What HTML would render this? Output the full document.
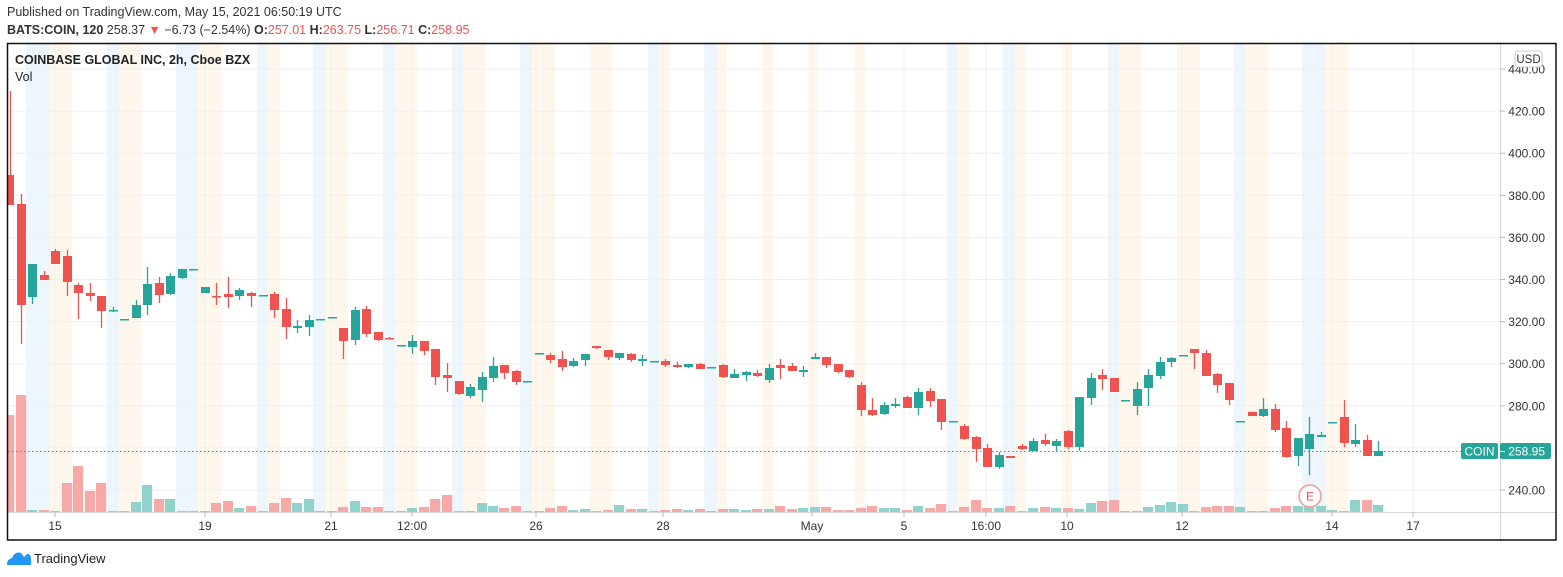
<!DOCTYPE html>
<html><head><meta charset="utf-8">
<style>
html,body{margin:0;padding:0;background:#fff;width:1563px;height:577px;overflow:hidden;font-family:"Liberation Sans",sans-serif;}
svg text{font-family:"Liberation Sans",sans-serif;}
</style></head><body>
<svg id="s" width="1563" height="577" xmlns="http://www.w3.org/2000/svg">
<text x="7" y="16" font-size="12.5" fill="#333">Published on TradingView.com, May 15, 2021 06:50:19 UTC</text>
<text x="7" y="34" font-size="12.5" fill="#333"><tspan font-weight="bold">BATS:COIN, 120</tspan> 258.37 <tspan fill="#ef5350">▼</tspan> −6.73 (−2.54%) <tspan font-weight="bold">O:</tspan><tspan fill="#ef5350">257.01</tspan> <tspan font-weight="bold">H:</tspan><tspan fill="#ef5350">263.75</tspan> <tspan font-weight="bold">L:</tspan><tspan fill="#ef5350">256.71</tspan> <tspan font-weight="bold">C:</tspan><tspan fill="#ef5350">258.95</tspan></text>
<g id="bands"></g>
<g id="grid"></g>
<g id="vol"></g>
<g id="candles"></g>
<line x1="8" y1="451.5" x2="1500" y2="451.5" stroke="#26a69a" stroke-width="1" stroke-dasharray="1.5,2.5"/>
<line x1="1500.5" y1="43" x2="1500.5" y2="540" stroke="#d6d6d6"/>
<line x1="8" y1="512.5" x2="1556" y2="512.5" stroke="#d6d6d6"/>
<g id="axis"></g>
<rect x="1461" y="443" width="37" height="16" rx="2" fill="#26a69a"/>
<text x="1479.5" y="455.5" font-size="12" fill="#fff" text-anchor="middle">COIN</text>
<rect x="1500" y="443" width="51" height="16" rx="2" fill="#26a69a"/>
<line x1="1500" y1="451.5" x2="1505" y2="451.5" stroke="#fff"/>
<text x="1545" y="455.5" font-size="12" fill="#fff" text-anchor="end">258.95</text>
<rect x="1515" y="51" width="27" height="16" rx="3" fill="#fff" stroke="#ccc"/>
<text x="1528.5" y="63" font-size="11.5" fill="#333" text-anchor="middle">USD</text>
<text x="15" y="64" font-size="12.5" font-weight="bold" fill="#222">COINBASE GLOBAL INC, 2h, Cboe BZX</text>
<text x="15" y="81" font-size="12.5" fill="#222">Vol</text>
<circle cx="1310" cy="496" r="11" fill="#fff" stroke="#f29a9a" stroke-width="1.5"/>
<text x="1310" y="500.5" font-size="12" fill="#ef5350" text-anchor="middle">E</text>
<rect x="7.5" y="43.5" width="1548.5" height="496.5" fill="none" stroke="#111" stroke-width="1.5"/>
<path d="M7 565 q0 -6 5 -7 q3 -7 9 -5 l3 4 l3 -3 q5 -1 4 11 z" fill="#2196f3"/>
<text x="34" y="563" font-size="13" fill="#222">TradingView</text>
</svg>
<script>
var NS="http://www.w3.org/2000/svg";
function el(p,t,a){var e=document.createElementNS(NS,t);for(var k in a)e.setAttribute(k,a[k]);document.getElementById(p).appendChild(e);return e;}
var blue=[[26,50],[107,119],[176,198],[257,268],[313,326],[383,395],[452,463],[520,532],[648,659],[704,717],[947,957],[1003,1015],[1108,1119],[1234,1245],[1302,1325]];
var orng=[[50,72],[119,141],[198,221],[268,280],[326,348],[395,417],[463,486],[532,555],[590,612],[659,670],[717,727],[762,773],[808,818],[855,865],[957,969],[1015,1026],[1062,1072],[1119,1141],[1177,1200],[1245,1268],[1325,1348]];
blue.forEach(function(b){el("bands","rect",{x:b[0],y:44,width:b[1]-b[0],height:468,fill:"#eef6fd"});});
orng.forEach(function(b){el("bands","rect",{x:b[0],y:44,width:b[1]-b[0],height:468,fill:"#fff7ec"});});
for(var i=0;i<11;i++){var y=69+i*42.1;el("grid","line",{x1:8,x2:1500,y1:y,y2:y,stroke:"#efefef"});
 el("axis","line",{x1:1500,x2:1505,y1:y,y2:y,stroke:"#bbb"});
 var t=el("axis","text",{x:1545,y:y+4.5,"font-size":12,fill:"#333","text-anchor":"end"});t.textContent=(440-20*i).toFixed(2);}
var dl=[[55,"15"],[205,"19"],[331,"21"],[412,"12:00"],[536,"26"],[663,"28"],[812,"May"],[904,"5"],[986,"16:00"],[1067,"10"],[1182,"12"],[1332,"14"],[1413,"17"]];
dl.forEach(function(d){el("grid","line",{x1:d[0],x2:d[0],y1:44,y2:512,stroke:"#efefef"});
 el("axis","line",{x1:d[0],x2:d[0],y1:512,y2:517,stroke:"#bbb"});
 var t=el("axis","text",{x:d[0],y:530,"font-size":12,fill:"#333","text-anchor":"middle"});t.textContent=d[1];});
var C=[[7,175,205,91,205,'r'],[17,204,305,194,344,'r'],[28,264,297,264,304,'g'],[40,275,280,271,280,'r'],[51,251,264,249,264,'r'],[63,256,282,250,296,'r'],[74,285,293,283,319,'r'],[86,293,296,283,301,'r'],[97,296,311,296,328,'r'],[109,310,311,307,312,'g'],[120,319,320,319,320,'g'],[132,305,318,300,318,'g'],[143,284,305,267,315,'g'],[155,283,295,277,303,'r'],[166,276,294,273,295,'g'],[178,269,278,269,279,'g'],[189,269,270,269,270,'g'],[201,287,293,287,293,'g'],[212,296,297,283,305,'r'],[224,294,297,277,308,'r'],[235,290,296,288,300,'g'],[247,293,296,292,307,'r'],[259,295,296,295,296,'g'],[270,294,310,292,318,'r'],[282,309,327,298,339,'r'],[293,326,328,320,333,'g'],[305,320,327,315,336,'g'],[316,319,320,319,320,'g'],[328,317,318,317,318,'g'],[339,328,341,328,359,'r'],[351,310,340,307,345,'g'],[362,309,334,306,337,'r'],[374,332,340,332,341,'r'],[385,338,339,337,339,'r'],[397,345,346,345,346,'g'],[408,341,347,335,354,'g'],[420,341,351,341,355,'r'],[431,349,377,349,385,'r'],[443,375,378,363,392,'r'],[455,381,394,381,395,'r'],[466,387,396,384,398,'g'],[478,377,390,372,402,'g'],[489,366,378,357,382,'g'],
[500,365,373,365,379,'r'],[512,371,382,370,385,'r'],[523,381,382,381,382,'g'],[535,353,354,353,354,'g'],[546,355,360,353,363,'r'],[558,359,367,351,371,'r'],[569,361,366,358,367,'g'],[581,354,360,354,366,'g'],[592,346,348,346,349,'r'],[604,350,357,350,360,'r'],[615,353,358,353,360,'g'],[627,354,360,353,362,'r'],[638,359,361,355,366,'g'],[650,361,362,361,362,'g'],[661,361,365,359,367,'r'],[673,365,367,362,368,'r'],[684,364,367,364,368,'g'],[696,364,369,363,369,'r'],[707,367,368,367,368,'g'],[719,365,377,364,378,'r'],[730,374,378,369,378,'g'],[742,372,375,371,381,'g'],[753,373,376,370,377,'r'],[765,368,380,364,383,'g'],[776,365,368,359,379,'r'],[788,366,371,363,371,'r'],[799,370,372,366,377,'g'],[811,357,359,353,359,'g'],[822,357,365,357,368,'r'],[834,364,372,364,373,'r'],[845,370,377,370,378,'r'],[857,385,410,382,416,'r'],[868,410,415,398,416,'r'],[880,405,414,402,415,'g'],[891,404,406,398,408,'g'],[903,397,408,396,408,'r'],[914,392,408,388,415,'g'],[926,391,401,388,407,'r'],[937,399,422,399,430,'r'],[949,421,422,421,422,'g'],[960,426,439,424,440,'r'],[972,437,449,436,462,'r'],
[983,448,467,444,467,'r'],[995,455,467,452,469,'g'],[1006,456,458,456,458,'r'],[1018,446,449,444,450,'r'],[1029,441,451,438,451,'g'],[1041,440,444,434,446,'r'],[1052,441,446,439,451,'g'],[1064,431,447,430,449,'r'],[1075,397,447,397,451,'g'],[1087,378,398,373,405,'g'],[1098,375,379,369,390,'r'],[1110,378,392,378,392,'r'],[1121,400,401,400,401,'g'],[1133,389,406,382,415,'g'],[1144,375,388,369,406,'g'],[1156,362,376,357,379,'g'],[1167,358,362,357,367,'g'],[1179,355,356,355,356,'g'],[1190,349,353,349,369,'r'],[1202,353,376,350,376,'r'],[1213,374,385,373,393,'r'],[1225,383,400,383,405,'r'],[1236,421,422,421,422,'g'],[1248,412,416,412,416,'r'],[1259,409,416,398,417,'g'],[1271,409,430,404,432,'r'],[1282,428,457,421,458,'r'],[1294,438,456,438,466,'g'],[1305,434,449,417,475,'g'],[1317,435,437,432,437,'g'],[1328,422,423,422,423,'g'],[1340,417,443,400,447,'r'],[1351,440,444,424,447,'g'],[1363,440,456,435,456,'r'],[1374,451,456,441,456,'g']];
var V=[97,117,2,2,1,29,46,21,29,1,1,10,27,13,13,1,1,1,9,11,4,6,1,9,14,9,13,1,1,5,11,5,5,1,1,4,5,13,17,1,1,9,6,4,6,1,1,4,6,2,3,1,2,7,3,3,1,2,3,2,3,1,3,3,2,3,3,6,3,4,5,5,2,2,4,6,4,4,2,6,4,8,1,5,12,4,4,6,1,4,5,4,4,3,9,11,12,1,1,5,7,10,8,1,5,6,6,5,1,1,4,6,6,15,6,2,1,12,12,7,9];
C.forEach(function(c,i){var col=c[5]=='r'?"#ef5350":"#26a69a";var w=i==0?7:9;var cx=c[0]+w/2;
 el("candles","line",{x1:cx,x2:cx,y1:c[3],y2:c[4],stroke:col,"stroke-width":1.3});
 el("candles","rect",{x:c[0],y:c[1],width:w,height:Math.max(1.5,c[2]-c[1]),fill:col});
 var h=V[i]||1;var vx=i==0?7:c[0]-1;var vw=i==0?8:11;if(i==1){vx=16;vw=11;}
 el("vol","rect",{x:vx,y:512-h,width:vw-0.8,height:h,fill:c[5]=='r'?"#f7a9a7":"#92d2cc"});});
</script>
</body></html>
